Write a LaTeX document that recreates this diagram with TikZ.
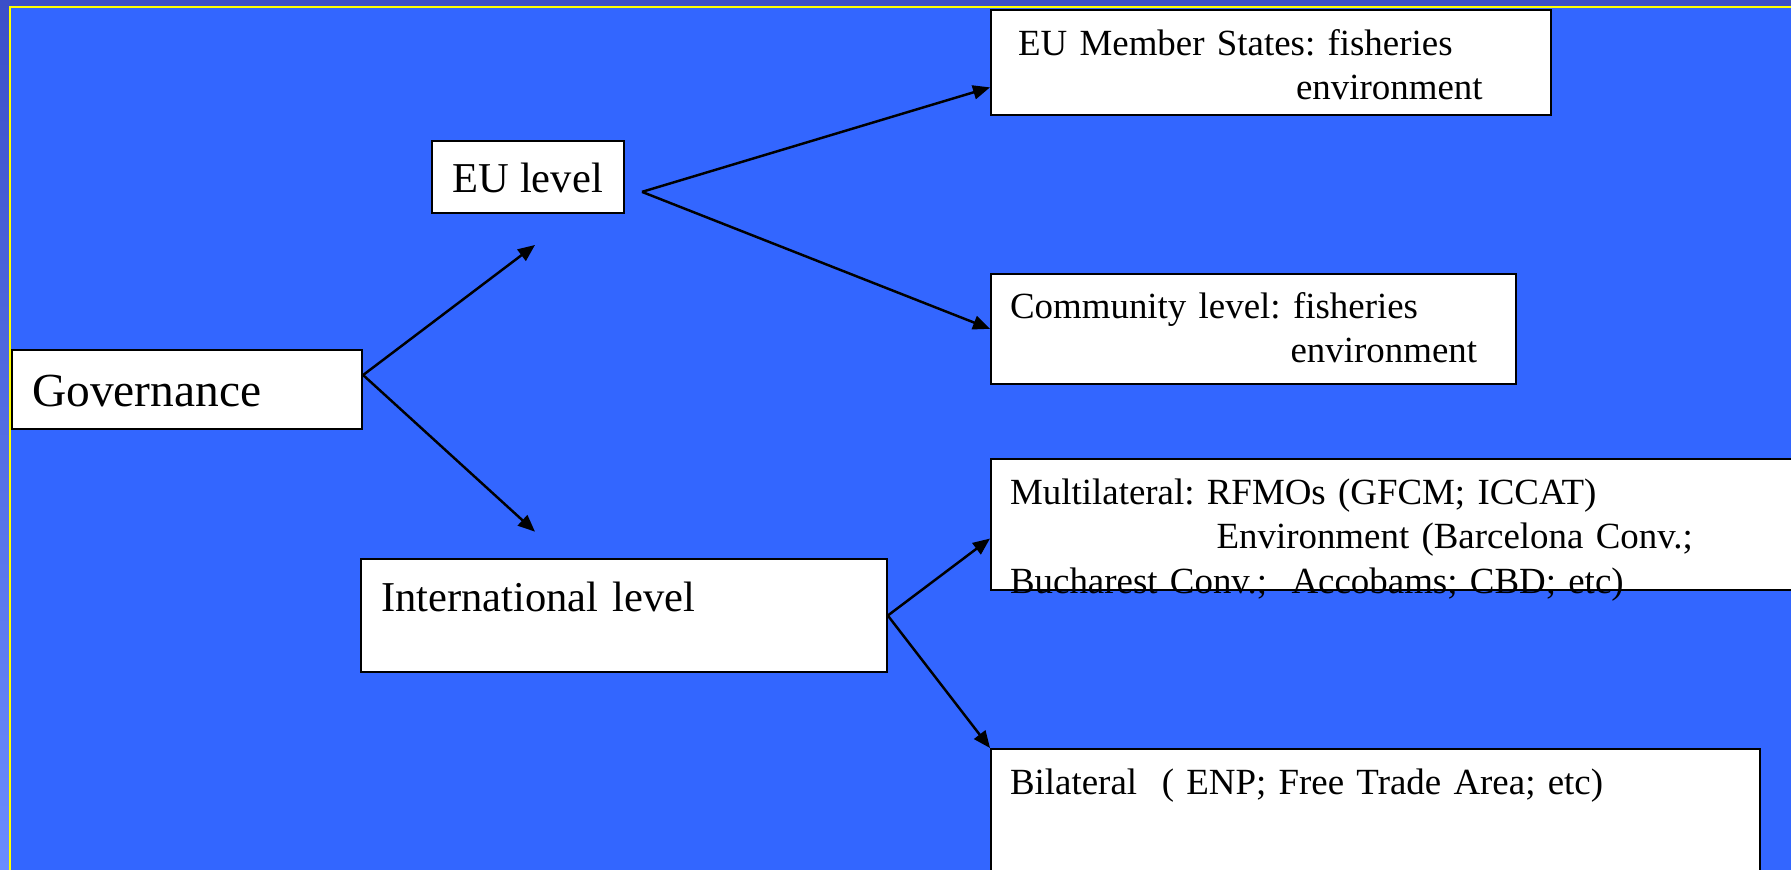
\documentclass[tikz,border=0pt]{standalone}
\usepackage{fontspec}
\setmainfont{Liberation Serif}
\usetikzlibrary{positioning,arrows.meta}

\definecolor{slideblue}{HTML}{3366FF}
\definecolor{stripdark}{HTML}{3B4FC8}
\definecolor{striplight}{HTML}{6A8CFF}
\definecolor{rimyellow}{HTML}{FFFF00}

\begin{document}
\frenchspacing
\begin{tikzpicture}
[box/.style={draw=black,fill=white,line width=0.6pt,inner ysep=0pt,inner xsep=0.2cm,
  anchor=north west,align=left},
 bigbox/.style={box,font=\fontsize{13.5}{16}\selectfont},
 midbox/.style={box,font=\fontsize{12.1}{14.5}\selectfont},
 rbox/.style={box,inner xsep=0.19cm,font=\fontsize{10.5}{12.6}\selectfont},
 arr/.style={draw=black,line width=0.7pt,-{Triangle[length=0.17cm,width=0.14cm]}}]
\useasboundingbox (0,0) rectangle (17.91,8.70);
% slide background
\fill[slideblue] (0,0) rectangle (17.91,8.70);
\fill[stripdark] (0,8.63) rectangle (17.91,8.70);
\shade[top color=stripdark,bottom color=striplight] (0,0) rectangle (0.09,8.70);
\draw[rimyellow,line width=0.02cm] (0.095,0) -- (0.095,8.625) -- (17.91,8.625);
% left part
\node[bigbox,text width=3.10cm,text height=0.56cm,text depth=0.23cm] (gov) at (0.11,5.21) {Governance};
\node[midbox,minimum width=1.915cm,text height=0.513cm,text depth=0.213cm] (eu) at (4.31,7.303) {EU level};
\node[midbox,text width=4.854cm,text height=0.517cm,text depth=0.607cm] (intl) at (3.603,3.117) {International level};
% right column
\node[rbox,inner xsep=0.27cm,text width=5.056cm,text height=0.453cm,text depth=0.594cm] (ms) at (9.90,8.61)
  {EU Member States: fisheries\\\hspace*{2.78cm}environment};
\node[rbox,below=1.57cm of ms.south west,anchor=north west,text width=4.868cm,text height=0.443cm,text depth=0.657cm] (cl)
  {Community level: fisheries\\\hspace*{2.805cm}environment};
\node[rbox,below=0.726cm of cl.south west,anchor=north west,text width=8.22cm,text height=0.46cm,text depth=0.85cm] (ml)
  {Multilateral: RFMOs (GFCM; ICCAT)\\\hspace*{2.065cm}Environment (Barcelona Conv.;\\Bucharest Conv.;\ \ Accobams; CBD; etc)};
\node[rbox,below=1.574cm of ml.south west,anchor=north west,text width=7.308cm,text height=0.45cm,text depth=1.2cm] (bl)
  {Bilateral\ \ ( ENP; Free Trade Area; etc)};
% free ends of the arrows
\coordinate (eutip) at (5.35,6.25);
\coordinate (intltip) at (5.35,3.383);
\coordinate (eufork) at (6.42,6.781);
\path ([yshift=0.145cm]gov.east) edge[arr] (eutip);
\path ([yshift=0.145cm]gov.east) edge[arr] (intltip);
\path (eufork) edge[arr] ([yshift=-0.25cm]ms.west);
\path (eufork) edge[arr] (cl.west);
\path (intl.east) edge[arr] ([yshift=-0.145cm]ml.west);
\path (intl.east) edge[arr] (bl.north west);
\end{tikzpicture}
\end{document}
